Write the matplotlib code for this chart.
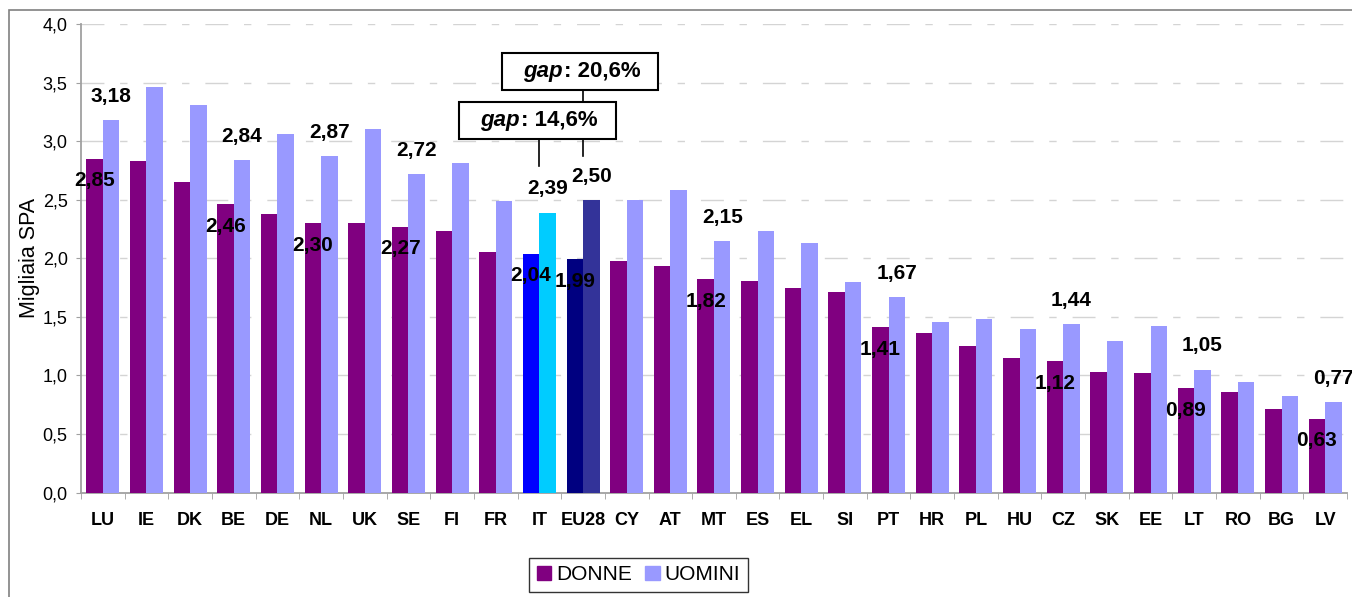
import numpy as np
import matplotlib
matplotlib.use("Agg")
import matplotlib.pyplot as plt
from matplotlib.patches import Rectangle
from matplotlib.ticker import FuncFormatter, FixedLocator

plt.rcParams["font.family"] = ["Liberation Sans", "DejaVu Sans"]

# Data (migliaia SPA)
paesi = ["LU", "IE", "DK", "BE", "DE", "NL", "UK", "SE", "FI", "FR", "IT", "EU28",
         "CY", "AT", "MT", "ES", "EL", "SI", "PT", "HR", "PL", "HU", "CZ", "SK",
         "EE", "LT", "RO", "BG", "LV"]
donne = [2.85, 2.83, 2.65, 2.46, 2.38, 2.30, 2.30, 2.27, 2.23, 2.05, 2.04, 1.99,
         1.98, 1.93, 1.82, 1.81, 1.75, 1.71, 1.41, 1.36, 1.25, 1.15, 1.12, 1.03,
         1.02, 0.89, 0.86, 0.71, 0.63]
uomini = [3.18, 3.46, 3.31, 2.84, 3.06, 2.87, 3.10, 2.72, 2.81, 2.49, 2.39, 2.50,
          2.50, 2.58, 2.15, 2.23, 2.13, 1.80, 1.67, 1.46, 1.48, 1.40, 1.44, 1.29,
          1.42, 1.05, 0.94, 0.82, 0.77]
etichettati = ["LU", "BE", "NL", "SE", "IT", "EU28", "MT", "PT", "CZ", "LT", "LV"]
gap_paesi = ["IT", "EU28"]
gap_testi = ["14,6%", "20,6%"]

# Colours
c_donne, c_uomini = "#800080", "#9999FF"
speciali = {"IT": ("#0000FF", "#00CCFF"), "EU28": ("#000080", "#333399")}


def virgola(v, dec=2):
    return f"{v:.{dec}f}".replace(".", ",")


fig = plt.figure(figsize=(13.52, 5.97), dpi=100)
ax = fig.add_axes([0.0599, 0.175, 0.9364, 0.7848])

x = np.arange(len(paesi))
w = 0.378
col_d = [speciali.get(p, (c_donne, c_uomini))[0] for p in paesi]
col_u = [speciali.get(p, (c_donne, c_uomini))[1] for p in paesi]
ax.bar(x - w / 2, donne, w, color=col_d, label="DONNE", zorder=3)
ax.bar(x + w / 2, uomini, w, color=col_u, label="UOMINI", zorder=3)

# Axes look
ax.set_xlim(-0.5, len(paesi) - 0.5)
ax.set_ylim(0, 4.0)
ax.set_yticks(np.arange(0, 4.01, 0.5))
ax.yaxis.set_major_formatter(FuncFormatter(lambda v, p: virgola(v, 1)))
for yv in np.arange(0.5, 4.01, 0.5):
    gl = ax.axhline(yv, color="#D4D4D4", lw=1.0, zorder=0)
    gl.set_dashes([16.5, 11.3, 5.3, 11.5])
for s in ["top", "right"]:
    ax.spines[s].set_visible(False)
for s in ["left", "bottom"]:
    ax.spines[s].set_color("#A0A0A0")
    ax.spines[s].set_linewidth(1.3)
ax.tick_params(axis="y", length=3.6, color="#A0A0A0", labelsize=13, pad=6)
ax.set_xticks(x)
ax.set_xticklabels(paesi, fontweight="bold", fontsize=13)
ax.tick_params(axis="x", which="major", length=0, pad=14)
ax.xaxis.set_minor_locator(FixedLocator(np.arange(-0.5, len(paesi), 1.0)))
ax.tick_params(axis="x", which="minor", length=4, color="#A0A0A0")
ax.set_ylabel("Migliaia SPA", fontsize=15.5, labelpad=2)

# Value labels
for i, p in enumerate(paesi):
    if p in etichettati:
        ax.annotate(virgola(donne[i]), (i - w / 2, donne[i]), xytext=(0, -16),
                    textcoords="offset points", ha="center", va="center",
                    fontsize=15, fontweight="bold", zorder=5, annotation_clip=False)
        ax.annotate(virgola(uomini[i]), (i + w / 2, uomini[i]), xytext=(0, 17),
                    textcoords="offset points", ha="center", va="center",
                    fontsize=15, fontweight="bold", zorder=5, annotation_clip=False)

# Gap boxes (x0, x1, y0, y1 in data units) and connector bottoms
box_pos = [(8.17, 11.75, 3.019, 3.335), (9.14, 12.72, 3.434, 3.756)]
linea_base = [2.79, 2.87]
for p, testo, (x0, x1, y0, y1), yb in zip(gap_paesi, gap_testi, box_pos, linea_base):
    i = paesi.index(p)
    ax.plot([i, i], [yb, y0], color="black", lw=1.2, zorder=4)
    ax.add_patch(Rectangle((x0, y0), x1 - x0, y1 - y0, facecolor="white",
                           edgecolor="black", lw=1.5, zorder=6))
    xc = (x0 + x1) / 2 - 0.4
    yc = (y0 + y1) / 2
    ax.text(xc, yc, "gap", ha="right", va="center", fontsize=16,
            fontweight="bold", fontstyle="italic", zorder=7)
    ax.text(xc + 0.03, yc, ": " + testo, ha="left", va="center", fontsize=16,
            fontweight="bold", zorder=7)

# Legend
leg = fig.legend(loc="center", bbox_to_anchor=(0.4723, 0.0369), ncol=2,
                 fontsize=15, frameon=True, fancybox=False, edgecolor="black",
                 handlelength=0.7, handleheight=0.7, handletextpad=0.25,
                 columnspacing=0.6, borderpad=0.35)
leg.get_frame().set_linewidth(1.0)
leg.legend_handles[0].set_color(c_donne)
leg.legend_handles[1].set_color(c_uomini)

# Outer chart frame
fig.patches.append(Rectangle((9 / 1352, -0.1), 1.2, 1 - 10 / 597 + 0.1,
                             transform=fig.transFigure, fill=False,
                             edgecolor="#808080", lw=1.2))

fig.savefig("out.png", dpi=100)
